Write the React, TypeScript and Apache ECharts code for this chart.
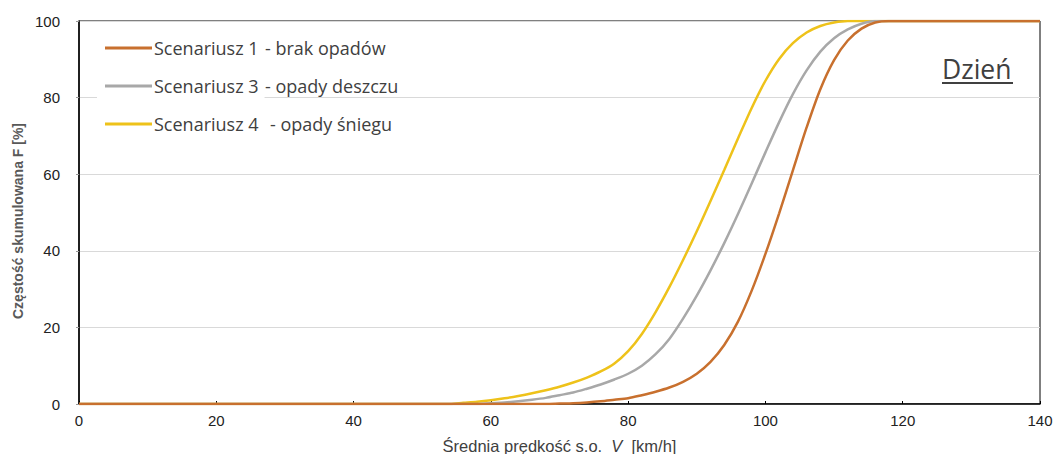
import React, { useEffect, useRef } from "react";
import * as echarts from "echarts";

const seriesNames = ["Scenariusz 1", "Scenariusz 3", "Scenariusz 4"];
const seriesSuffix = ["- brak opadów", "- opady deszczu", "- opady śniegu"];
const seriesColors = ["#C8702E", "#A8A8A8", "#EEC21A"];

const s1Speed = [0, 68, 70, 72, 74, 76, 78, 80, 82, 84, 86, 88, 90, 92, 94, 96, 98, 100, 102, 104, 106, 108, 110, 112, 114, 116, 118, 140];
const s1F = [0, 0, 0.1, 0.2, 0.4, 0.7, 1.1, 1.5, 2.3, 3.2, 4.3, 5.8, 7.9, 11, 15.4, 21.5, 29.6, 39.2, 49.8, 61, 72.2, 82.2, 89.8, 94.9, 98, 99.6, 100, 100];

const s3Speed = [0, 58, 60, 62, 64, 66, 68, 70, 72, 74, 76, 78, 80, 82, 84, 86, 88, 90, 92, 94, 96, 98, 100, 102, 104, 106, 108, 110, 112, 114, 116, 140];
const s3F = [0, 0, 0.2, 0.4, 0.7, 1.1, 1.6, 2.3, 3, 4, 5.1, 6.4, 7.9, 10, 13, 17, 22.3, 28.3, 34.9, 42, 49.6, 57.6, 65.7, 73.6, 80.9, 87.1, 92, 95.5, 97.8, 99.3, 100, 100];

const s4Speed = [0, 54, 56, 58, 60, 62, 64, 66, 68, 70, 72, 74, 76, 78, 80, 82, 84, 86, 88, 90, 92, 94, 96, 98, 100, 102, 104, 106, 108, 110, 112, 140];
const s4F = [0, 0, 0.3, 0.6, 1, 1.5, 2.1, 2.8, 3.6, 4.5, 5.6, 6.9, 8.5, 10.6, 13.8, 18.3, 24, 30.5, 37.6, 45.1, 53, 61.1, 69.3, 77.3, 84.4, 90.1, 94.2, 97, 98.7, 99.6, 100, 100];

const xTicks = { min: 0, max: 140, interval: 20 };
const yTicks = { min: 0, max: 100, interval: 20 };

const pair = (xs: number[], ys: number[]) => xs.map((x, i) => [x, ys[i]]);

export default function App() {
  const ref = useRef<HTMLDivElement>(null);
  useEffect(() => {
    if (!ref.current) return;
    const chart = echarts.init(ref.current, undefined, { renderer: "svg" });
    const data = [pair(s1Speed, s1F), pair(s3Speed, s3F), pair(s4Speed, s4F)];
    const legendRowsY = [48, 86, 124];
    chart.setOption({
      animation: false,
      backgroundColor: "#ffffff",
      grid: {
        left: 79,
        right: 14,
        top: 21,
        bottom: 50,
        show: true,
        borderColor: "#000",
        borderWidth: 1,
        backgroundColor: "transparent",
        outerBoundsMode: "none",
        containLabel: false,
      },
      legend: {
        orient: "vertical",
        left: 97,
        top: 37,
        icon: "rect",
        itemWidth: 47,
        itemHeight: 3,
        itemGap: 20,
        backgroundColor: "#ffffff",
        padding: [2, 6, 2, 8],
        textStyle: { fontFamily: "Open Sans", fontSize: 18, lineHeight: 18, color: "#404040", padding: [0, 0, 0, -3] },
        data: seriesNames,
      },
      xAxis: {
        type: "value",
        min: xTicks.min,
        max: xTicks.max,
        interval: xTicks.interval,
        name: "{a|Średnia prędkość s.o.  }{i|V}{a|  [km/h]}",
        nameLocation: "middle",
        nameGap: 33,
        nameTextStyle: {
          rich: {
            a: { fontFamily: "Liberation Sans", fontSize: 16.5, color: "#404040" },
            i: { fontFamily: "Liberation Sans", fontSize: 16.5, color: "#404040", fontStyle: "italic" },
          },
        },
        axisLine: { show: true, lineStyle: { color: "#000", width: 1.5 } },
        axisTick: { show: true, inside: true, length: 3, lineStyle: { color: "#000" } },
        axisLabel: { fontFamily: "Liberation Sans", fontSize: 15, color: "#222", margin: 9 },
        splitLine: { show: false },
      },
      yAxis: {
        type: "value",
        min: yTicks.min,
        max: yTicks.max,
        interval: yTicks.interval,
        axisLine: { show: true, lineStyle: { color: "#000", width: 1.5 } },
        axisTick: { show: true, inside: false, length: 3, lineStyle: { color: "#999" } },
        axisLabel: { fontFamily: "Liberation Sans", fontSize: 15, color: "#222", margin: 19 },
        splitLine: { show: true, lineStyle: { color: "#D9D9D9", width: 1.2 } },
      },
      graphic: [
        ...seriesSuffix.map((t, i) => ({
          type: "text",
          x: i === 2 ? 270 : 265,
          y: legendRowsY[i],
          z: 100,
          style: { text: t, fontFamily: "Open Sans", fontSize: 18, fill: "#404040", verticalAlign: "middle" },
        })),
        {
          type: "text",
          x: 18,
          y: 221,
          rotation: Math.PI / 2,
          z: 100,
          style: {
            text: "Częstość skumulowana F [%]",
            fontFamily: "Liberation Sans",
            fontSize: 14,
            fontWeight: "bold",
            fill: "#595959",
            align: "center",
            verticalAlign: "middle",
          },
        },
        {
          type: "text",
          x: 942,
          y: 69,
          z: 100,
          style: { text: "Dzień", fontFamily: "Open Sans", fontSize: 26.5, fill: "#404040", verticalAlign: "middle" },
        },
        {
          type: "line",
          z: 100,
          shape: { x1: 942, y1: 83, x2: 1013, y2: 83 },
          style: { stroke: "#404040", lineWidth: 2 },
        },
      ],
      series: seriesNames.map((n, i) => ({
        name: n,
        type: "line",
        data: data[i],
        smooth: 0.3,
        showSymbol: false,
        symbol: "none",
        lineStyle: { color: seriesColors[i], width: 2.5 },
        itemStyle: { color: seriesColors[i] },
        z: 5 - i,
      })),
    });
    return () => chart.dispose();
  }, []);
  return <div ref={ref} style={{ position: "fixed", left: 0, top: 0, width: 1054, height: 454 }} />;
}
